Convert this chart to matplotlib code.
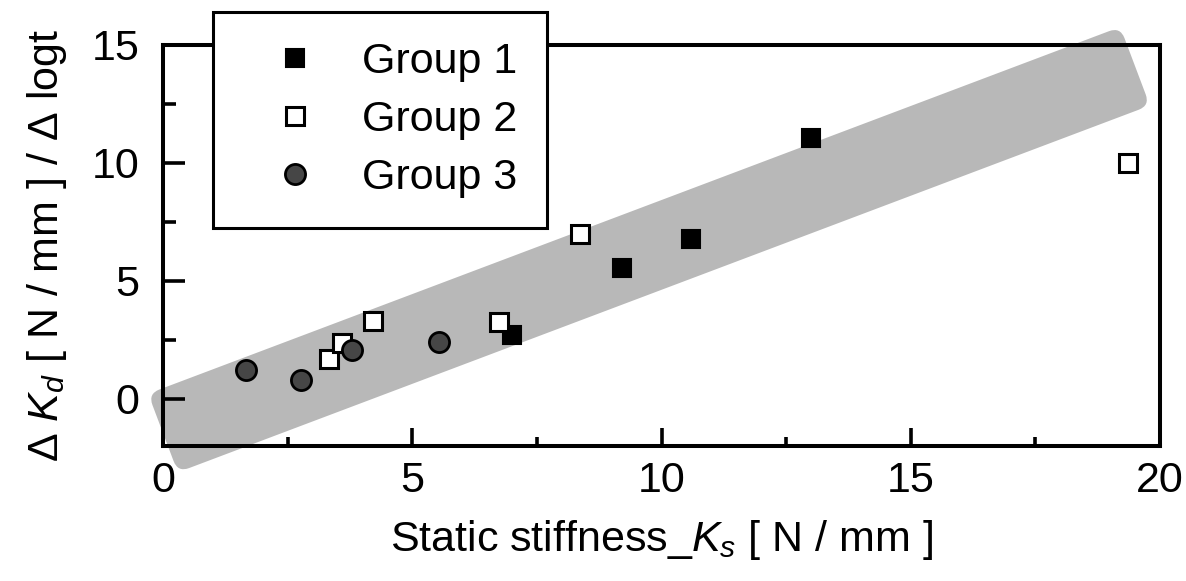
import numpy as np
import matplotlib
matplotlib.use("Agg")
import matplotlib.pyplot as plt
from matplotlib.patches import FancyBboxPatch
from matplotlib.transforms import Affine2D
from matplotlib.ticker import MultipleLocator

plt.rcParams['font.family'] = ['Liberation Sans', 'DejaVu Sans']
plt.rcParams['mathtext.fontset'] = 'custom'
plt.rcParams['mathtext.rm'] = 'Liberation Sans'
plt.rcParams['mathtext.it'] = 'Liberation Sans:italic'

### data
g1_x = [7.0, 9.2, 10.6, 13.0]
g1_y = [2.7, 5.55, 6.78, 11.07]
g2_x = [3.34, 3.6, 4.22, 6.75, 8.37, 19.35]
g2_y = [1.7, 2.36, 3.32, 3.25, 7.0, 10.0]
g3_x = [1.66, 2.77, 3.8, 5.53]
g3_y = [1.23, 0.78, 2.05, 2.43]

### trend band (end centres in data units, width in pixels)
band_start = (0.0, -1.45)
band_end = (19.5, 14.1)
band_width_px = 84

fig = plt.figure(figsize=(11.86, 5.81), dpi=100)
ax = fig.add_axes([163/1186, 1-446/581, 997/1186, 401/581])
ax.set_xlim(0, 20)
ax.set_ylim(-2, 15)

### the grey band, built in pixel space so it stays a proper rectangle
p0 = ax.transData.transform(band_start)
p1 = ax.transData.transform(band_end)
d = p1 - p0
L = np.hypot(d[0], d[1])
ang = np.arctan2(d[1], d[0])
c = (p0 + p1) / 2
band = FancyBboxPatch((-L/2, -band_width_px/2), L, band_width_px,
                      boxstyle="round,pad=0,rounding_size=12",
                      facecolor='#b8b8b8', edgecolor='none')
band.set_transform(Affine2D().rotate(ang).translate(c[0], c[1]))
band.set_clip_on(False)
band.set_zorder(1)
ax.add_artist(band)

ax.plot(g1_x, g1_y, 's', ms=13.5, mfc='black', mec='black', mew=1.5, label='Group 1', zorder=3)
ax.plot(g2_x, g2_y, 's', ms=13.5, mfc='white', mec='black', mew=2.2, label='Group 2', zorder=3)
ax.plot(g3_x, g3_y, 'o', ms=14.5, mfc='#464646', mec='black', mew=2.0, label='Group 3', zorder=3)

for s in ['left', 'bottom', 'top', 'right']:
    ax.spines[s].set_linewidth(2.9)
    ax.spines[s].set_zorder(4)

ax.xaxis.set_major_locator(MultipleLocator(5))
ax.xaxis.set_minor_locator(MultipleLocator(2.5))
ax.yaxis.set_major_locator(MultipleLocator(5))
ax.yaxis.set_minor_locator(MultipleLocator(2.5))
ax.tick_params(axis='x', which='major', direction='in', length=13, width=2.6, labelsize=31, pad=11)
ax.tick_params(axis='x', which='minor', direction='in', length=6.5, width=2.6)
ax.tick_params(axis='y', which='major', direction='in', length=16, width=2.6, labelsize=31, pad=17)
ax.tick_params(axis='y', which='minor', direction='in', length=9.5, width=2.6)

ax.set_xlabel(r'Static stiffness_$K_s$ [ N / mm ]', fontsize=31, labelpad=12)
ax.set_ylabel(r'Δ $K_d$ [ N / mm ] / Δ logt', fontsize=31, labelpad=16)

leg = ax.legend(loc='upper left', bbox_to_anchor=(213/1186, 1-12/581), bbox_transform=fig.transFigure,
                borderaxespad=0, fontsize=31, frameon=True, fancybox=False, framealpha=1,
                borderpad=0.7, handlelength=2.4, handletextpad=0.35, labelspacing=0.42)
leg.get_frame().set_edgecolor('black')
leg.get_frame().set_linewidth(2.2)
leg.set_zorder(5)

fig.savefig('out.png', dpi=100)
